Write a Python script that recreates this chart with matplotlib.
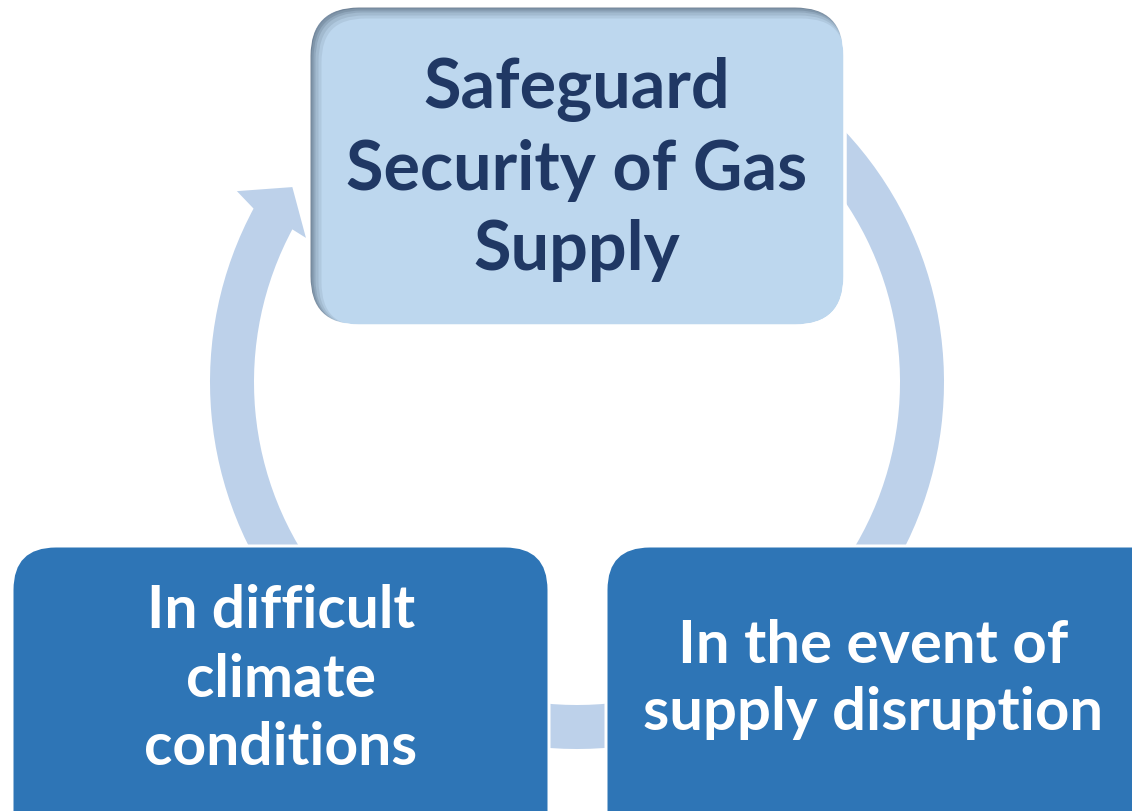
import numpy as np
import matplotlib
matplotlib.use("Agg")
import matplotlib.pyplot as plt
from matplotlib.patches import FancyBboxPatch, Wedge, Polygon

# ---- content ----
top_lines = ["Safeguard", "Security of Gas", "Supply"]
left_lines = ["In difficult", "climate", "conditions"]
right_lines = ["In the event of", "supply disruption"]

# ---- colours ----
ring_color = "#BDD1EA"
top_fill = "#BDD7EE"
top_text = "#203864"
dark_fill = "#2E75B6"
shadow_col = "#3E4E62"

W, H = 1132, 812
fig = plt.figure(figsize=(W / 100, H / 100), dpi=100)
ax = fig.add_axes([0, 0, 1, 1])
ax.set_xlim(0, W)
ax.set_ylim(0, H)
ax.axis("off")

def Y(y):
    return H - y

FONT = "Lato"

# ---- ring ----
cx, cy = 577, Y(383)
r_out, r_in = 367, 323
head_base = 151.5
ax.add_patch(Wedge((cx, cy), r_out, head_base, 420, width=r_out - r_in,
                   facecolor=ring_color, edgecolor="none", zorder=1))

def polar(r, a):
    t = np.deg2rad(a)
    return (cx + r * np.cos(t), cy + r * np.sin(t))

head = [polar(r_out, head_base + 0.3), polar(390, 150.7), polar(345, 145.6),
        polar(307, 152.0), polar(r_in, head_base + 0.3)]
ax.add_patch(Polygon(head, closed=True, facecolor=ring_color,
                     edgecolor="none", zorder=1))

EW = 3 * 72 / 100  # 3 px white gap

def rbox(x0, y0, x1, y1, rad, fc, z):
    p = FancyBboxPatch((x0, Y(y1)), x1 - x0, y1 - y0,
                       boxstyle=f"round,pad=0,rounding_size={rad}",
                       facecolor=fc, edgecolor="white", linewidth=EW, zorder=z)
    ax.add_patch(p)
    return p

# ---- top box with inner shadow (top/left) ----
tb = (309, 7, 845, 327)
TR = 50
top = rbox(*tb, TR, top_fill, 3)
for L, al in [(12, 0.10), (9, 0.12), (6, 0.16), (4, 0.2), (2, 0.25)]:
    d = L / 2 + 0.5
    s = FancyBboxPatch((tb[0] + d, Y(tb[3]) - d), tb[2] - tb[0], tb[3] - tb[1],
                       boxstyle=f"round,pad=0,rounding_size={TR}",
                       facecolor="none", edgecolor=shadow_col,
                       linewidth=L * 0.72, alpha=al, zorder=3.5)
    ax.add_patch(s)
    s.set_clip_path(top)
ax.add_patch(FancyBboxPatch((tb[0], Y(tb[3])), tb[2] - tb[0], tb[3] - tb[1],
                            boxstyle=f"round,pad=0,rounding_size={TR}",
                            facecolor="none", edgecolor="white",
                            linewidth=EW, zorder=3.8))

# ---- bottom boxes ----
rbox(12, 547, 549, 860, 44, dark_fill, 3)
rbox(606, 547, 1180, 860, 44, dark_fill, 3)

# ---- text with width fitting ----
fig.canvas.draw()
renderer = fig.canvas.get_renderer()

def fit_size(s, target_px, base=40):
    t = ax.text(0, 0, s, fontsize=base, fontweight="bold", family=FONT)
    w = t.get_window_extent(renderer).width
    t.remove()
    return base * target_px / w

fs_top = fit_size("Security of Gas", 461)
fs_left = fit_size("In difficult", 268)
fs_right = fit_size("supply disruption", 460)

for s, yb in zip(top_lines, [108, 190, 270]):
    ax.text(577, Y(yb), s, ha="center", va="baseline", fontsize=fs_top,
            fontweight="bold", family=FONT, color=top_text, zorder=5)
for s, yb in zip(left_lines, [628, 697, 765]):
    ax.text(281, Y(yb), s, ha="center", va="baseline", fontsize=fs_left,
            fontweight="bold", family=FONT, color="white", zorder=5)
for s, yb in zip(right_lines, [663, 730]):
    ax.text(873, Y(yb), s, ha="center", va="baseline", fontsize=fs_right,
            fontweight="bold", family=FONT, color="white", zorder=5)

fig.savefig("out.png", dpi=100, facecolor="white")
